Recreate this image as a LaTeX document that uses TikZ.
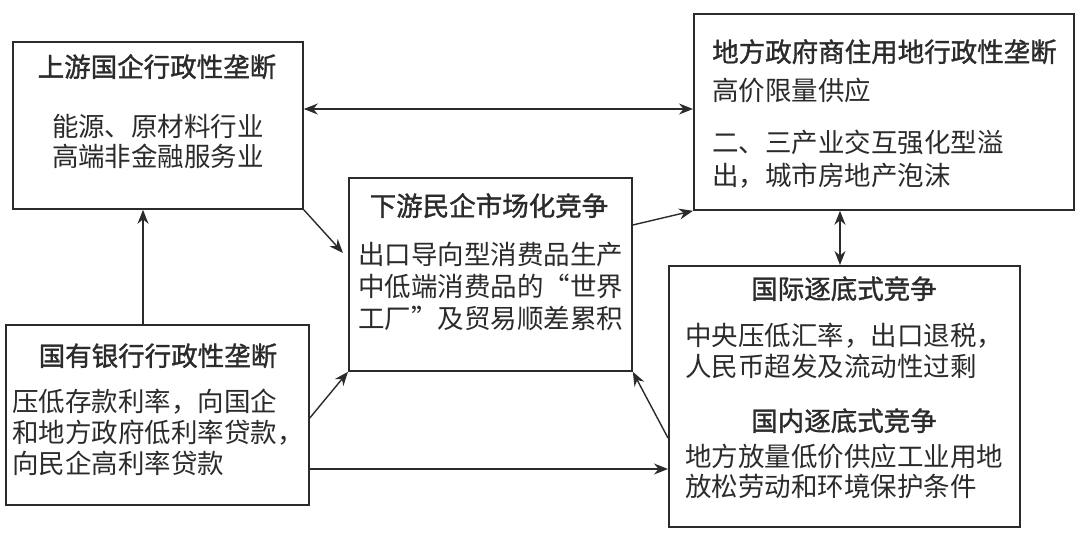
\documentclass[tikz,border=0pt]{standalone}
\usepackage{fontspec}
\newfontfamily\cjk{Noto Sans CJK SC}
\newfontfamily\cjkt[FakeBold=1.3]{Noto Sans CJK SC}
\usetikzlibrary{arrows.meta,calc}
\definecolor{ink}{HTML}{2B2B2B}
\begin{document}
\begin{tikzpicture}[x=1pt,y=-1pt,
  boxnode/.style={draw=ink,line width=1.8pt,anchor=north west,inner sep=0pt,minimum width=#1},
  tline/.style={inner sep=0pt,text=ink,font=\cjk\fontsize{26.5}{30}\selectfont,text height=0.88em,text depth=0.12em},
  ttitle/.style={tline,font=\cjkt\fontsize{26.5}{30}\selectfont},
  arr/.style={draw=ink,line width=1.4pt,-{Stealth[length=14pt,width=11pt]}},
  darr/.style={draw=ink,line width=1.4pt,{Stealth[length=14pt,width=11pt]}-{Stealth[length=14pt,width=11pt]}}
]
\useasboundingbox[fill=white] (0,0) rectangle (1080,534);

% boxes
\node[boxnode=290pt,minimum height=167pt] (b1) at (12,41) {};
\node[boxnode=380pt,minimum height=196pt] (b2) at (693,13) {};
\node[boxnode=283pt,minimum height=193pt] (b3) at (348,177) {};
\node[boxnode=303pt,minimum height=180pt] (b4) at (5,324) {};
\node[boxnode=351pt,minimum height=261pt] (b5) at (668,265) {};

% box 1 text
\node[ttitle] (t1) at (157,73) {上游国企行政性垄断};
\node[tline] (t1a) at (158,133) {能源、原材料行业};
\node[tline] (t1b) at (158,163) {高端非金融服务业};

% box 2 text
\node[ttitle,anchor=west] (t2) at (712,58) {地方政府商住用地行政性垄断};
\node[tline,anchor=west] (t2a) at (712,97) {高价限量供应};
\node[tline,anchor=west] (t2b) at (712,149) {二、三产业交互强化型溢};
\node[tline,anchor=west] (t2c) at (712,182) {出，城市房地产泡沫};

% box 3 text
\node[ttitle] (t3) at (489,212) {下游民企市场化竞争};
\node[tline,anchor=west] (t3a) at (358,261) {出口导向型消费品生产};
\node[tline,anchor=west] (t3b) at (358,293) {中低端消费品的“世界};
\node[tline,anchor=west] (t3c) at (358,325) {工厂”及贸易顺差累积};

% box 4 text
\node[ttitle] (t4) at (158,362) {国有银行行政性垄断};
\node[tline,anchor=west] (t4a) at (12,408) {压低存款利率，向国企};
\node[tline,anchor=west] (t4b) at (12,439) {和地方政府低利率贷款，};
\node[tline,anchor=west] (t4c) at (12,470) {向民企高利率贷款};

% box 5 text
\node[ttitle] (t5) at (844,295) {国际逐底式竞争};
\node[tline,anchor=west] (t5a) at (685,342) {中央压低汇率，出口退税，};
\node[tline,anchor=west] (t5b) at (685,373) {人民币超发及流动性过剩};
\node[ttitle] (t5c) at (844,427) {国内逐底式竞争};
\node[tline,anchor=west] (t5d) at (685,463) {地方放量低价供应工业用地};
\node[tline,anchor=west] (t5e) at (685,493) {放松劳动和环境保护条件};

% connectors
\draw[darr] (b1.east |- 0,109) -- (b2.west |- 0,109);
\draw[arr] (143,0 |- b4.north) -- (143,0 |- b1.south);
\draw[arr] (b1.south east) -- ([xshift=-5pt]b3.west |- 0,253);
\draw[arr] (b3.east |- 0,225) -- (b2.south west);
\draw[darr] (840,0 |- b2.south) -- (840,0 |- b5.north);
\draw[arr] (b4.east |- 0,418) -- (b3.south west);
\draw[arr] (b5.west |- 0,438) -- (b3.south east);
\draw[arr] (b4.east |- 0,469) -- (b5.west |- 0,469);
\end{tikzpicture}
\end{document}
